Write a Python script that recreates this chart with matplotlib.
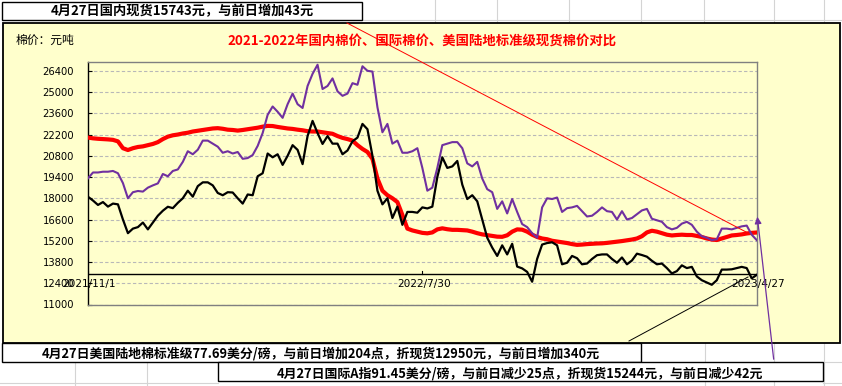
import numpy as np
import matplotlib
matplotlib.use("Agg")
import matplotlib.pyplot as plt
from matplotlib.patches import Rectangle, FancyArrowPatch
from matplotlib.lines import Line2D

plt.rcParams['font.family'] = ['Noto Sans CJK SC', 'DejaVu Sans']

# ---------------- data ----------------
date_labels = ['2021/11/1', '2022/7/30', '2023/4/27']

domestic = [22000,21950,21920,21900,21880,21850,21750,21300,21180,21300,
            21380,21420,21500,21580,21700,21900,22060,22150,22200,22270,
            22320,22400,22450,22500,22550,22600,22620,22580,22520,22500,
            22460,22500,22550,22600,22650,22720,22770,22760,22700,22650,
            22600,22570,22520,22480,22420,22400,22400,22350,22300,22250,
            22100,21980,21900,21800,21500,21250,21050,20600,19300,18500,
            18200,18000,17750,16900,16000,15880,15800,15720,15690,15750,
            15950,16020,15960,15920,15920,15900,15880,15800,15700,15620,
            15570,15520,15470,15460,15560,15800,15950,15930,15800,15600,
            15450,15350,15300,15200,15150,15100,15050,14980,14930,14950,
            14980,15000,15020,15030,15060,15100,15140,15180,15230,15280,
            15350,15500,15750,15860,15800,15700,15600,15550,15580,15600,
            15580,15580,15520,15450,15350,15280,15250,15350,15450,15550,
            15580,15620,15680,15720,15743]

intl_a = [19316,19700,19700,19750,19750,19800,19650,19000,18000,18400,
          18480,18440,18700,18850,18980,19600,19450,19800,19900,20400,
          21100,20900,21200,21800,21800,21600,21400,21000,21100,20950,
          21050,20600,20650,20850,21450,22300,23500,24050,23700,23300,
          24200,24900,24200,23950,25400,26200,26800,25200,25400,25900,
          25050,24750,24900,25586,25480,26700,26400,26350,24000,22350,
          22900,21600,21800,21000,21000,21100,21300,20000,18500,18700,
          20000,21500,21600,21700,21700,21300,20300,20100,20400,19300,
          18600,18400,17300,17800,17000,17950,17100,16300,16100,15700,
          15400,17400,18000,17950,18050,17100,17350,17400,17500,17150,
          16800,16850,17100,17400,17150,17100,16600,17150,16600,16700,
          16950,17200,17300,16650,16550,16450,16100,15950,16050,16330,
          16450,16250,15800,15500,15400,15250,15300,16000,16000,15950,
          16050,16150,16200,15600,15244]

us_upland = [18100,17850,17560,17750,17450,17650,17600,16600,15700,16000,
             16100,16400,15950,16400,16850,17180,17440,17350,17700,18000,
             18500,18106,18800,19050,19050,18850,18350,18200,18400,18380,
             18000,17650,18250,18200,19450,19650,20950,20700,20900,20200,
             20800,21500,21190,20250,22100,23100,22300,21580,22100,21600,
             21600,20900,21150,21750,22000,22900,22550,20800,18500,17600,
             18000,16700,17450,16250,17100,17100,17050,17400,17330,17450,
             19400,20700,20000,20100,20460,18900,17950,18200,17800,16600,
             15400,14750,14200,14900,14300,15000,13500,13380,13150,12500,
             14000,14950,15050,15100,14900,13650,13750,14200,14050,13650,
             13700,14000,14250,14300,14300,14000,13750,14100,13650,13900,
             14350,14260,14150,13880,13650,13700,13400,13046,13200,13580,
             13400,13480,12850,12600,12450,12300,12600,13300,13300,13320,
             13400,13480,13400,12720,12950]

y_ticks = list(range(11000, 26401, 1400))
y_min, y_max, cross_at = 11000, 27000, 13000

title = '2021-2022年国内棉价、国际棉价、美国陆地标准级现货棉价对比'
unit_label = '棉价：元吨'
top_note = '4月27日国内现货15743元，与前日增加43元'
note_us = '4月27日美国陆地棉标准级77.69美分/磅，与前日增加204点，折现货12950元，与前日增加340元'
note_a = '4月27日国际A指91.45美分/磅，与前日减少25点，折现货15244元，与前日减少42元'

# ---------------- layout helpers ----------------
W, H = 842, 386
fig = plt.figure(figsize=(W / 100, H / 100), dpi=100)
fig.patch.set_facecolor('white')


def P(x, y):
    return (x / W, 1 - y / H)


def hline_px(x0, x1, y, color='#d4d4d4', lw=0.8, z=0):
    fig.add_artist(Line2D([x0 / W, x1 / W], [1 - y / H, 1 - y / H], color=color, lw=lw,
                          transform=fig.transFigure, zorder=z))


def vline_px(x, y0, y1, color='#d4d4d4', lw=0.8, z=0):
    fig.add_artist(Line2D([x / W, x / W], [1 - y0 / H, 1 - y1 / H], color=color, lw=lw,
                          transform=fig.transFigure, zorder=z))


def box_px(x0, y0, x1, y1, fc, ec='black', lw=1.0, z=1):
    r = Rectangle((x0 / W, 1 - y1 / H), (x1 - x0) / W, (y1 - y0) / H, facecolor=fc,
                  edgecolor=ec, lw=lw, transform=fig.transFigure, zorder=z)
    fig.add_artist(r)


# spreadsheet cell grid (background)
hline_px(362, 842, 20)
for xv in [435, 497, 569, 641, 704, 774, 824]:
    vline_px(xv, 0, 23)
for xv in [705, 774, 824]:
    vline_px(xv, 343, 386)
for xv in [75, 147]:
    vline_px(xv, 362, 386)
hline_px(823, 842, 362)
hline_px(0, 218, 383)
hline_px(823, 842, 383)

# chart area
box_px(2.5, 23, 840, 343, '#FFFFCC', lw=1.3, z=1)
# top note box
box_px(2, 2, 362, 20, 'white', lw=1.0, z=2)
# bottom note boxes
box_px(2, 343, 641, 362, 'white', lw=1.0, z=2)
box_px(218, 362, 823, 381, 'white', lw=1.0, z=2)

# ---------------- plot area ----------------
ax = fig.add_axes([88 / W, 1 - 304.5 / H, 668.7 / W, (304.5 - 61.7) / H])
ax.set_zorder(3)
ax.set_facecolor('#FFFFCC')
n = len(domestic)
x = np.arange(n)

ax.set_xlim(0, n - 1)
ax.set_ylim(y_min, y_max)
ax.set_yticks(y_ticks)
ax.set_yticklabels([str(v) for v in y_ticks], fontsize=7.2, family='DejaVu Sans')
ax.tick_params(axis='y', direction='in', length=3, pad=10, width=0.8)
ax.set_xticks([])
ax.yaxis.grid(True, color='#b8b8b8', linestyle=(0, (3, 2)), lw=0.8)
ax.set_axisbelow(True)
for s in ['top', 'right', 'bottom']:
    ax.spines[s].set_color('#808080')
    ax.spines[s].set_linewidth(1.0)
ax.spines['left'].set_color('black')
ax.spines['left'].set_linewidth(1.0)

# category axis crossing at 13000
ax.axhline(cross_at, color='black', lw=1.0, zorder=2)
label_pos = [0, (n - 1) / 2, n - 1]
for lp, lab in zip(label_pos, date_labels):
    ax.plot([lp, lp], [cross_at, cross_at + 180], color='black', lw=0.8, zorder=2)
    ax.annotate(lab, (lp, cross_at), xytext=(1, -3.5), textcoords='offset points',
                ha='center', va='top', fontsize=7.6, family='DejaVu Sans', zorder=6,
                annotation_clip=False)

ax.plot(x, domestic, color='#FF0000', lw=3.0, zorder=3, solid_joinstyle='round')
ax.plot(x, intl_a, color='#7030A0', lw=1.5, zorder=4)
ax.plot(x, us_upland, color='black', lw=1.6, zorder=5)

# ---------------- texts ----------------
fig.text(*P(182, 11.5), top_note, ha='center', va='center', fontsize=9.5,
         weight='bold', zorder=5)
fig.text(*P(16, 40), unit_label, ha='left', va='center', fontsize=8.5, zorder=5)
fig.text(*P(422, 41), title, ha='center', va='center', fontsize=9.6,
         weight='bold', color='#FF0000', zorder=5)
fig.text(*P(42, 354), note_us, ha='left', va='center', fontsize=9.3,
         weight='bold', zorder=5)
fig.text(*P(277, 373), note_a, ha='left', va='center', fontsize=9.3,
         weight='bold', zorder=5)

# ---------------- callout lines ----------------
fig.add_artist(Line2D([347 / W, 748 / W], [1 - 23 / H, 1 - 233 / H], color='#FF0000',
                      lw=0.7, transform=fig.transFigure, zorder=6))
fig.add_artist(Line2D([629 / W, 748 / W], [1 - 341 / H, 1 - 277 / H], color='black',
                      lw=0.7, transform=fig.transFigure, zorder=6))
arr = FancyArrowPatch(P(774, 362), P(757, 214), transform=fig.transFigure,
                      arrowstyle='-|>,head_length=4,head_width=2', color='#7030A0',
                      lw=0.9, zorder=6)
fig.add_artist(arr)

fig.savefig('out.png', dpi=100)
